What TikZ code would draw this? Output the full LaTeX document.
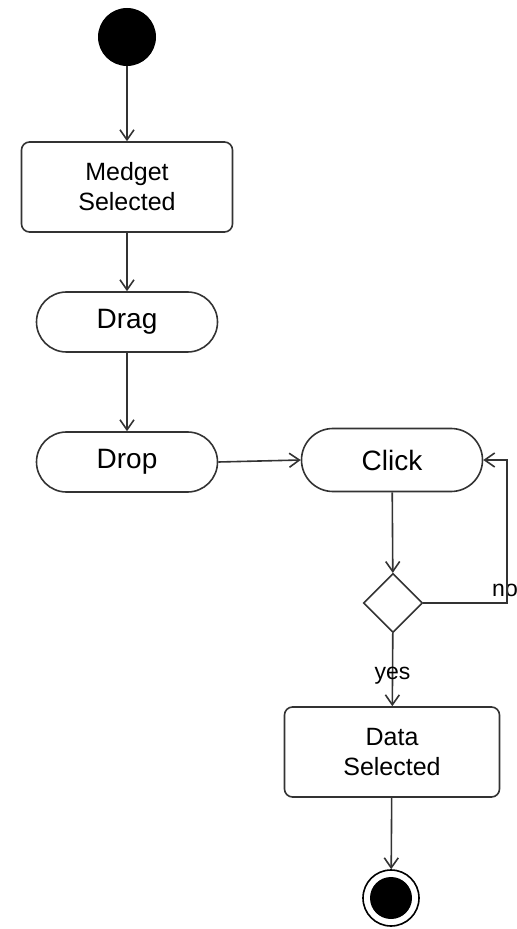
\documentclass[tikz,border=0pt]{standalone}
\usepackage{fontspec}
\setmainfont{Liberation Sans}
\usetikzlibrary{arrows.meta,shapes.geometric}

\begin{document}
\begin{tikzpicture}[x=0.5pt,y=-0.5pt,
    flow/.style={-{Straight Barb[length=5pt,width=7pt]},line width=0.8pt,draw=black!80},
    action/.style={draw=black!80,line width=0.8pt,rounded corners=4pt,align=center,
        minimum height=45pt,font=\fontsize{12.5}{15}\selectfont},
    pill/.style={draw=black!80,line width=0.8pt,rounded corners=15pt,
        minimum width=90.5pt,minimum height=30pt,font=\fontsize{14}{17}\selectfont},
    label/.style={font=\fontsize{11.5}{14}\selectfont,inner sep=0pt}]
    \clip (0,0) rectangle (516,929);

    % Start and end
    \node[circle,fill=black,minimum size=29pt,inner sep=0pt] (start) at (127,37) {};
    \node[circle,draw=black,line width=0.8pt,minimum size=28pt,inner sep=0pt] (stop) at (391,898) {};
    \fill[black] (stop) circle (10.5pt);

    % Actions
    \node[action,minimum width=105.5pt] (medget) at (127,187) {Medget\\Selected};
    \node[pill] (drag) at (127,322) {Drag};
    \node[pill] (drop) at (127,462) {Drop};
    \node[pill,minimum height=31.5pt,rounded corners=15.75pt] (click) at (392,460) {Click};
    \node[action,minimum width=107.5pt] (data) at (392,752) {Data\\Selected};

    % Decision
    \node[diamond,draw=black!80,line width=0.8pt,minimum size=29.5pt,inner sep=0pt] (dec) at (393,603) {};
    \coordinate (loop) at (507,603);
    \node[label] (nolabel) at (505,590) {no};

    % Flow
    \draw[flow] (start) -- (medget);
    \draw[flow] (medget) -- (drag);
    \draw[flow] (drag) -- (drop);
    \draw[flow] (drop.east) -- (click.west);
    \draw[flow] (click) -- (dec);
    \draw[flow] (dec.east) -- (loop) |- (click.east);
    \draw[flow] (dec) -- node[label,pos=0.58] (yeslabel) {yes} (data);
    \draw[flow] (data) -- (stop);
\end{tikzpicture}
\end{document}
